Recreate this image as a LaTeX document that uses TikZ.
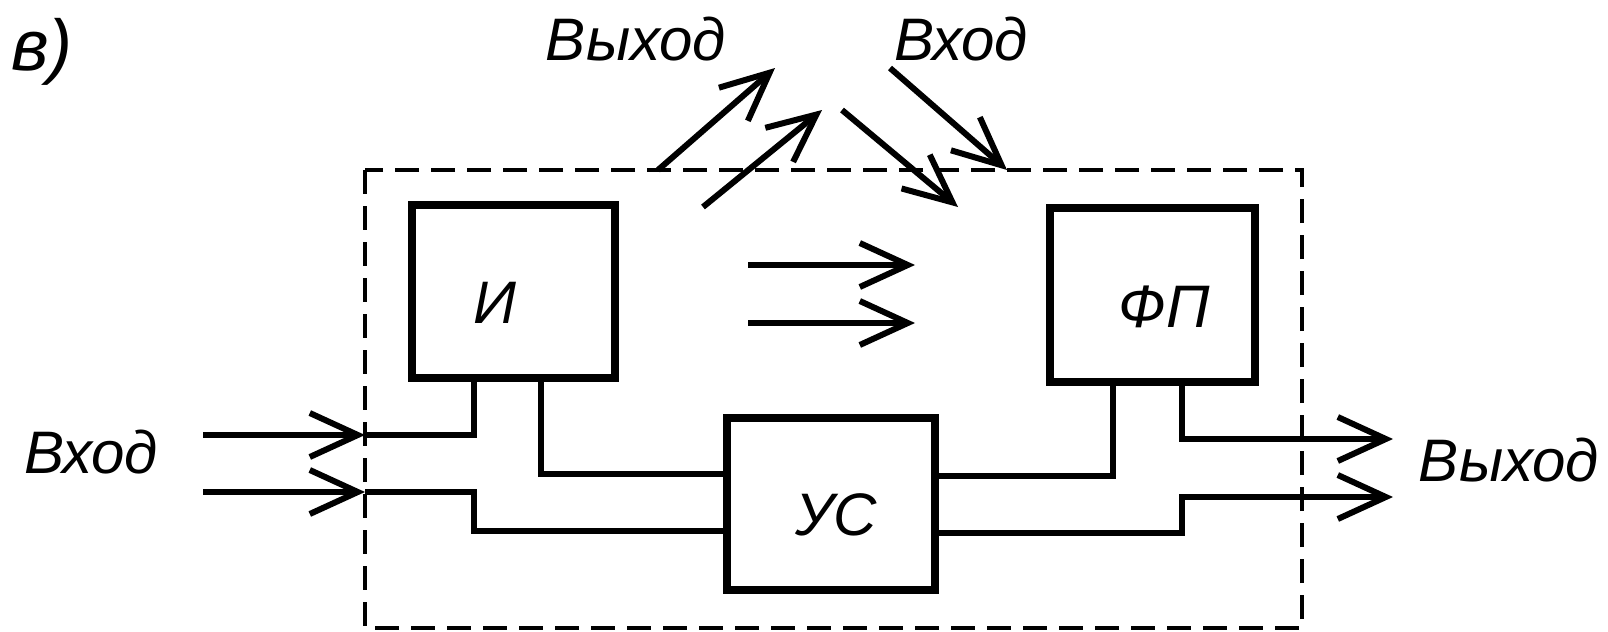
\documentclass[tikz,border=0pt]{standalone}
\usepackage{fontspec}
\setmainfont{Liberation Sans}
\usetikzlibrary{arrows.meta}
\begin{document}
\begin{tikzpicture}[x=0.5pt,y=-0.5pt,
  box/.style={draw, line width=3.8pt, inner sep=0pt},
  wire/.style={line width=3pt},
  arr/.style={wire, -{Straight Barb[length=24pt, width=22pt, line width=3pt]}},
  frame/.style={line width=1.7pt, dash pattern=on 12pt off 6pt},
  txt/.style={font=\fontsize{30pt}{32pt}\selectfont\itshape, inner sep=0pt, anchor=base}]
\useasboundingbox (0,0) rectangle (1608,632);

% dashed enclosure
\draw[frame] (365,170) rectangle (1302,628);

% blocks
\node[box, minimum width=101.5pt, minimum height=86.5pt] (I)  at (513.5,291.5) {};
\node[box, minimum width=102.5pt, minimum height=87pt]   (FP) at (1152.5,295) {};
\node[box, minimum width=104pt,   minimum height=86pt]   (US) at (831,504) {};

\node[txt] (Ilab)  at (495,323)  {И};
\node[txt] (FPlab) at (1164,327) {ФП};
\node[txt] (USlab) at (836,535)  {УС};

% labels
\node[txt, font=\fontsize{36pt}{38pt}\selectfont\itshape] (vlab) at (42,70) {в)};
\node[txt] (topOut) at (636,60)  {Выход};
\node[txt] (topIn)  at (961,60)  {Вход};
\node[txt] (leftIn) at (91,473)  {Вход};
\node[txt] (rightOut) at (1509,481) {Выход};

% connection points on blocks
\coordinate (I1) at ([xshift=33pt]I.south west);
\coordinate (I2) at ([xshift=66.5pt]I.south west);
\coordinate (F1) at ([xshift=33.5pt]FP.south west);
\coordinate (F2) at ([xshift=68pt]FP.south west);
\coordinate (USw1) at ([yshift=15pt]US.west);
\coordinate (USw2) at ([yshift=-13.5pt]US.west);
\coordinate (USe1) at ([yshift=14pt]US.east);
\coordinate (USe2) at ([yshift=-14.5pt]US.east);

% free ends
\coordinate (in1s) at (203,435);  \coordinate (in1e) at (365,435);
\coordinate (in2s) at (203,492);  \coordinate (in2e) at (365,492);
\coordinate (out1e) at (1393,439);
\coordinate (out2e) at (1393,497);

% inputs
\draw[arr] (in1s) -- (in1e);
\draw[arr] (in2s) -- (in2e);
\draw[wire] (in1e) -| (I1);
\draw[wire] (in2e) -- (in2e -| I1) |- (USw2);
\draw[wire] (I2) |- (USw1);
\draw[wire] (USe1) -| (F1);
\draw[arr] (F2) |- (out1e);
\draw[arr] (USe2) -- (USe2 -| F2) |- (out2e);

% radiated signals (top)
\coordinate (a1s) at (658,170);  \coordinate (a1e) at (775,68);
\coordinate (a2s) at (703,207);  \coordinate (a2e) at (822,110);
\coordinate (a3s) at (842,110);  \coordinate (a3e) at (958,207);
\coordinate (a4s) at (890,68);   \coordinate (a4e) at (1007,170);
\draw[arr] (a1s) -- (a1e);
\draw[arr] (a2s) -- (a2e);
\draw[arr] (a3s) -- (a3e);
\draw[arr] (a4s) -- (a4e);

% internal arrows
\coordinate (m1s) at (748,265); \coordinate (m1e) at (915,265);
\coordinate (m2s) at (748,323); \coordinate (m2e) at (915,323);
\draw[arr] (m1s) -- (m1e);
\draw[arr] (m2s) -- (m2e);
\end{tikzpicture}
\end{document}
